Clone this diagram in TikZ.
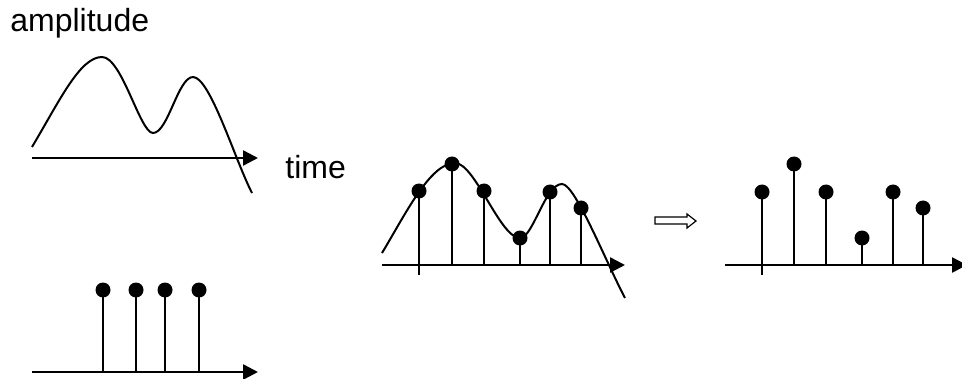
\documentclass[tikz,border=0pt]{standalone}
\usepackage{fontspec}
\setmainfont{Liberation Sans}
\usetikzlibrary{arrows.meta}

\begin{document}
\begin{tikzpicture}[
    x=0.5pt, y=-0.5pt,
    axis/.style={line width=1.25pt, -{Triangle[length=7.5pt, width=7.5pt]}},
    stem/.style={line width=1.25pt},
    wave/.style={line width=1pt},
    dot/.style={circle, fill, inner sep=0pt, minimum size=7.5pt},
    lbl/.style={font=\fontsize{16}{18}\selectfont, inner sep=0pt}
]
    \useasboundingbox (0,0) rectangle (962,379);

    % continuous signal
    \node[lbl, anchor=base west] (amp) at (10,32) {amplitude};
    \node[lbl, anchor=base west] (time) at (285,178) {time};
    \coordinate (a1) at (32,158);
    \coordinate (a1end) at (258,158);
    \draw[axis] (a1) -- (a1end);
    \draw[wave] (32,147) .. controls (60,100) and (80,57) .. (102,57)
        .. controls (122,57) and (140,133) .. (153,133)
        .. controls (168,133) and (178,77) .. (193,77)
        .. controls (210,77) and (235,160) .. (252,193);

    % impulse train
    \coordinate (a2) at (32,372);
    \coordinate (a2end) at (258,372);
    \draw[axis] (a2) -- (a2end);
    \foreach \x [count=\i] in {103,136,165,199} {
        \coordinate (c\i b) at (\x,372);
        \node[dot] (c\i) at (\x,290) {};
        \draw[stem] (c\i b) -- (c\i.center);
    }

    % sampled signal
    \coordinate (a3) at (382,265);
    \coordinate (a3end) at (625,265);
    \draw[axis] (a3) -- (a3end);
    \draw[wave] (382,253) .. controls (405,215) and (430,163) .. (455,163)
        .. controls (475,163) and (500,238) .. (520,238)
        .. controls (533,238) and (545,184) .. (562,184)
        .. controls (575,184) and (605,260) .. (625,298);
    \foreach \x/\y [count=\i] in {419/191, 452/164, 484/191, 520/238, 550/192, 581/208} {
        \ifnum\i=1 \coordinate (m\i b) at (\x,275); \else \coordinate (m\i b) at (\x,265); \fi
        \node[dot] (m\i) at (\x,\y) {};
        \draw[stem] (m\i b) -- (m\i.center);
    }

    % hollow arrow
    \draw[line width=0.6pt] (655,217) -- (687,217) -- (687,214) -- (696,221) -- (687,228) -- (687,224) -- (655,224) -- cycle;

    % samples only
    \coordinate (a4) at (725,265);
    \coordinate (a4end) at (967,265);
    \draw[axis] (a4) -- (a4end);
    \foreach \x/\y [count=\i] in {762/192, 794/164, 826/192, 862/238, 893/192, 923/208} {
        \ifnum\i=1 \coordinate (r\i b) at (\x,275); \else \coordinate (r\i b) at (\x,265); \fi
        \node[dot] (r\i) at (\x,\y) {};
        \draw[stem] (r\i b) -- (r\i.center);
    }
\end{tikzpicture}
\end{document}
